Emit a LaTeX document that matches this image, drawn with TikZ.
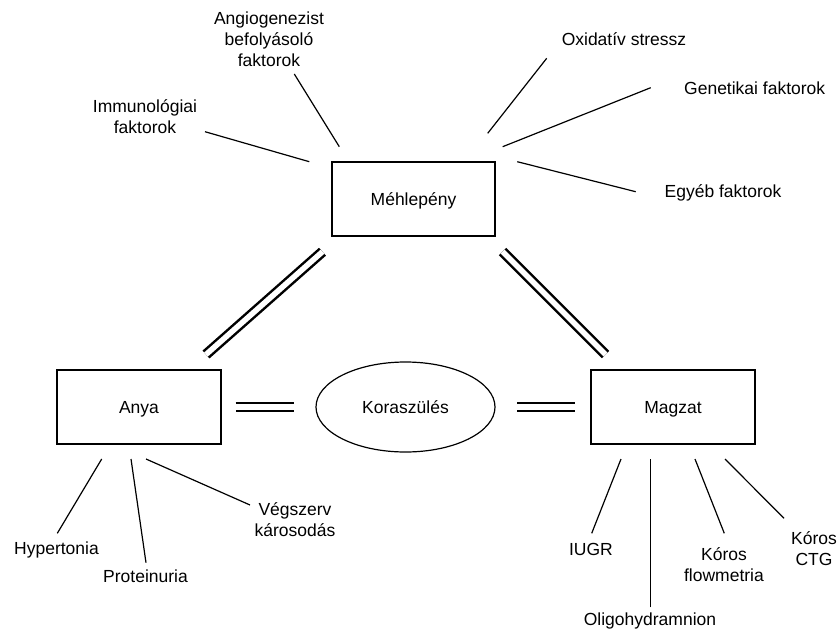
\documentclass[tikz,border=0pt]{standalone}
\usepackage{fontspec}
\setmainfont{Liberation Sans}
\usetikzlibrary{shapes.geometric}
\begin{document}
\begin{tikzpicture}[x=1pt,y=-1pt,
  every node/.style={font=\fontsize{17.5pt}{21pt}\selectfont},
  box/.style={draw,line width=1.2pt,inner sep=0pt,minimum width=164pt,minimum height=74pt,text height=12.6pt,text depth=0pt},
  oval/.style={draw,ellipse,line width=1.2pt,inner sep=0pt,minimum width=179pt,minimum height=90pt,text height=12.6pt,text depth=0pt},
  lbl/.style={anchor=base,inner sep=0pt},
  spoke/.style={line width=1.2pt},
  dbl/.style={double,double distance=5.5pt,line width=2.5pt}
]
\useasboundingbox (0,0) rectangle (839,630);

% main nodes
\node[box,minimum width=163pt] (meh) at (413.5,199) {Méhlepény};
\node[box] (anya) at (139,407) {Anya};
\node[box] (magzat) at (673,407) {Magzat};
\node[oval] (kora) at (405.5,407) {Koraszülés};

% double connectors
\draw[dbl,shorten <=14pt,shorten >=21pt] (anya) -- (kora);
\draw[dbl,shorten <=21.5pt,shorten >=15pt] (kora) -- (magzat);
\coordinate (dl-a) at (206,354.5);
\coordinate (dl-m) at (322.5,251.7);
\coordinate (dr-m) at (502.5,251.5);
\coordinate (dr-g) at (605.5,354.5);
\draw[dbl] (dl-a) -- (dl-m);
\draw[dbl] (dr-m) -- (dr-g);

% labels
\newcommand{\lines}[1]{\begin{tabular}[t]{@{}c@{}}#1\end{tabular}}
\node[lbl] (imm) at (145,112.5) {\lines{Immunológiai\\faktorok}};
\node[lbl] (ang) at (269,24.3) {\lines{Angiogenezist\\befolyásoló\\faktorok}};
\node[lbl] (oxi) at (624,45) {Oxidatív stressz};
\node[lbl] (gen) at (754.7,94) {Genetikai faktorok};
\node[lbl] (egy) at (723,197.3) {Egyéb faktorok};

\node[lbl] (hyp) at (56.5,554.3) {Hypertonia};
\node[lbl] (pro) at (145.5,582.7) {Proteinuria};
\node[lbl] (veg) at (295,515) {\lines{Végszerv\\károsodás}};

\node[lbl] (iugr) at (591,555) {IUGR};
\node[lbl] (oli) at (650,625.5) {Oligohydramnion};
\node[lbl] (flow) at (724,560.7) {\lines{Kóros\\flowmetria}};
\node[lbl] (ctg) at (814,544) {\lines{Kóros\\CTG}};

% spoke end points
\coordinate (imm-a) at (205,131.7);   \coordinate (imm-b) at (309.3,161.7);
\coordinate (ang-a) at (294.3,74);    \coordinate (ang-b) at (339.3,146.7);
\coordinate (oxi-a) at (546.7,58.3);  \coordinate (oxi-b) at (487.7,133.3);
\coordinate (gen-a) at (650.7,87.7);  \coordinate (gen-b) at (502.7,146.7);
\coordinate (egy-a) at (635.7,191.7); \coordinate (egy-b) at (517.3,161.7);
\coordinate (hyp-a) at (57.3,533.3);  \coordinate (hyp-b) at (101.7,459);
\coordinate (pro-a) at (146,562.7);   \coordinate (pro-b) at (131,459);
\coordinate (veg-a) at (250,505);     \coordinate (veg-b) at (146,459);
\coordinate (iugr-a) at (591.7,533.3);\coordinate (iugr-b) at (621,459);
\coordinate (oli-a) at (650.7,607.3); \coordinate (oli-b) at (650.7,459);
\coordinate (flow-a) at (724.3,533.3);\coordinate (flow-b) at (695,459);
\coordinate (ctg-a) at (784,518.3);   \coordinate (ctg-b) at (725,459);

\foreach \s in {imm,ang,oxi,gen,egy,hyp,pro,veg,iugr,oli,flow,ctg}
  \draw[spoke] (\s-a) -- (\s-b);
\end{tikzpicture}
\end{document}
